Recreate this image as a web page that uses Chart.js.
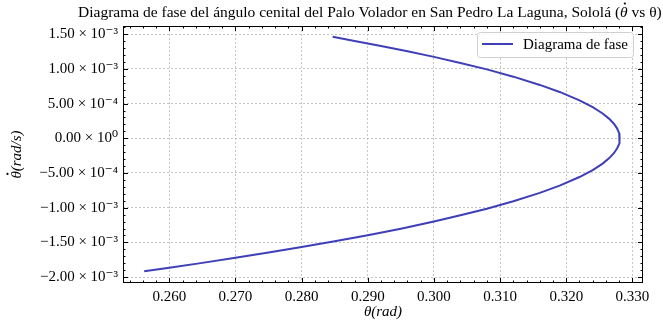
<!DOCTYPE html>
<html>
<head>
<meta charset="utf-8">
<script src="https://cdn.jsdelivr.net/npm/chart.js@4.4.1/dist/chart.umd.min.js"></script>
<style>
html, body { margin: 0; padding: 0; background: #fff; }
</style>
</head>
<body>
<canvas id="c" width="663" height="321"></canvas>
<script>
// angulo (rad) y velocidad angular (rad/s)
var theta = [0.2847, 0.2880, 0.2920, 0.2960, 0.3000, 0.3040, 0.3080, 0.3120, 0.3160, 0.3190,
  0.3220, 0.3240, 0.3255, 0.3265, 0.3272, 0.3277, 0.3280, 0.3281,
  0.3280, 0.3277, 0.3272, 0.3265, 0.3255, 0.3240, 0.3220, 0.3190, 0.3160, 0.3120,
  0.3080, 0.3040, 0.3000, 0.2950, 0.2900, 0.2850, 0.2800, 0.2750, 0.2700, 0.2650, 0.2600, 0.2562];
var thetaDot = [0.001462, 0.001402, 0.001330, 0.001254, 0.001173, 0.001086, 0.000993, 0.000888, 0.000769, 0.000668,
  0.000547, 0.000448, 0.000357, 0.000280, 0.000210, 0.000140, 0.000070, 0.0,
  -0.000072, -0.000143, -0.000215, -0.000286, -0.000365, -0.000458, -0.000558, -0.000682, -0.000787, -0.000907,
  -0.001014, -0.001110, -0.001199, -0.001302, -0.001396, -0.001484, -0.001567, -0.001646, -0.001722, -0.001795, -0.001866, -0.001916];

var xTicks = [0.26, 0.27, 0.28, 0.29, 0.30, 0.31, 0.32, 0.33];
var xTickLabels = ['0.260', '0.270', '0.280', '0.290', '0.300', '0.310', '0.320', '0.330'];
var yTicks = [-0.002, -0.0015, -0.001, -0.0005, 0, 0.0005, 0.001, 0.0015];
var yTickLabels = ['\u22122.00 \u00d7 10\u207b\u00b3', '\u22121.50 \u00d7 10\u207b\u00b3', '\u22121.00 \u00d7 10\u207b\u00b3',
  '\u22125.00 \u00d7 10\u207b\u2074', '0.00 \u00d7 10\u2070', '5.00 \u00d7 10\u207b\u2074',
  '1.00 \u00d7 10\u207b\u00b3', '1.50 \u00d7 10\u207b\u00b3'];

var tituloA = 'Diagrama de fase del \u00e1ngulo cenital del Palo Volador en San Pedro La Laguna, Solol\u00e1 (';
var tituloB = '\u03b8';
var tituloC = ' vs \u03b8)';
var serie = 'Diagrama de fase';
var azul = '#3f3fb8';
var serif = "'Liberation Serif', 'DejaVu Serif', serif";

var pts = [];
for (var i = 0; i < theta.length; i++) pts.push({x: theta[i], y: thetaDot[i]});

function punto(ctx, x, y) {
  ctx.beginPath();
  ctx.arc(x, y, 1.1, 0, Math.PI * 2);
  ctx.fill();
}

// marco y ticks hacia adentro, estilo matplotlib
var marco = {
  id: 'marco',
  afterDraw: function(chart) {
    var ctx = chart.ctx, a = chart.chartArea;
    var sx = chart.scales.x, sy = chart.scales.y;
    ctx.save();
    ctx.strokeStyle = '#000';
    ctx.lineWidth = 1;
    ctx.strokeRect(a.left + 0.5, a.top + 0.5, a.right - a.left - 1, a.bottom - a.top - 1);
    ctx.beginPath();
    var k, v, p, len;
    for (k = Math.ceil(sx.min / 0.002); k <= Math.floor(sx.max / 0.002); k++) {
      v = k * 0.002;
      p = Math.round(sx.getPixelForValue(v)) + 0.5;
      len = (k % 5 === 0) ? 5 : 2.5;
      ctx.moveTo(p, a.bottom); ctx.lineTo(p, a.bottom - len);
      ctx.moveTo(p, a.top); ctx.lineTo(p, a.top + len);
    }
    for (k = Math.ceil(sy.min / 0.0001); k <= Math.floor(sy.max / 0.0001); k++) {
      v = k * 0.0001;
      p = Math.round(sy.getPixelForValue(v)) + 0.5;
      len = (k % 5 === 0) ? 5 : 2.5;
      ctx.moveTo(a.left, p); ctx.lineTo(a.left + len, p);
      ctx.moveTo(a.right, p); ctx.lineTo(a.right - len, p);
    }
    ctx.stroke();

    // titulo (con punto sobre theta)
    var fs = '15.5px ' + serif, fi = 'italic 15.5px ' + serif;
    ctx.fillStyle = '#000';
    ctx.textBaseline = 'middle';
    ctx.textAlign = 'left';
    ctx.font = fs;
    var wA = ctx.measureText(tituloA).width;
    ctx.font = fi;
    var wB = ctx.measureText(tituloB).width;
    var tx = 78;
    ctx.font = fs;
    ctx.fillText(tituloA, tx, 13);
    ctx.font = fi;
    ctx.fillText(tituloB, tx + wA, 13);
    punto(ctx, tx + wA + wB / 2 + 1, 3.5);
    ctx.font = fs;
    ctx.fillText(tituloC, tx + wA + wB, 13);

    // titulo del eje y: theta punto (rad/s)
    ctx.save();
    ctx.translate(17, (a.top + a.bottom) / 2);
    ctx.rotate(-Math.PI / 2);
    ctx.font = 'italic 15px ' + serif;
    var t1 = '\u03b8', t2 = '(rad/s)';
    var w1 = ctx.measureText(t1).width, w2 = ctx.measureText(t2).width;
    var x0 = -(w1 + w2) / 2;
    ctx.fillText(t1, x0, 0);
    ctx.fillText(t2, x0 + w1, 0);
    punto(ctx, x0 + w1 / 2 + 1, -9.5);
    ctx.restore();

    // leyenda
    var lx = 477, ly = 32, lw = 156, lh = 25;
    ctx.beginPath();
    ctx.roundRect(lx + 0.5, ly + 0.5, lw, lh, 3);
    ctx.fillStyle = 'rgba(255,255,255,0.85)';
    ctx.fill();
    ctx.strokeStyle = '#d0d0d0';
    ctx.stroke();
    ctx.beginPath();
    ctx.strokeStyle = azul;
    ctx.lineWidth = 2;
    ctx.moveTo(482, 44); ctx.lineTo(513, 44);
    ctx.stroke();
    ctx.fillStyle = '#000';
    ctx.font = '15px ' + serif;
    ctx.textAlign = 'left';
    ctx.fillText(serie, 523, 45);
    ctx.restore();
  }
};

new Chart(document.getElementById('c'), {
  type: 'scatter',
  data: {
    datasets: [{
      label: serie,
      data: pts,
      showLine: true,
      borderColor: azul,
      borderWidth: 2,
      pointRadius: 0,
      tension: 0
    }]
  },
  options: {
    responsive: false,
    animation: false,
    layout: { padding: { top: 26, right: 20, left: 0, bottom: 0 } },
    plugins: { legend: { display: false }, tooltip: { enabled: false }, title: { display: false } },
    scales: {
      x: {
        min: 0.2530, max: 0.3316,
        afterBuildTicks: function(s) { s.ticks = xTicks.map(function(v) { return {value: v}; }); },
        afterFit: function(s) { s.height = 38; },
        grid: { color: '#b8b8b8', lineWidth: 0.8, drawTicks: false },
        border: { display: false, dash: [2, 2] },
        ticks: {
          padding: 5, color: '#000', font: { family: serif, size: 15 },
          maxRotation: 0, autoSkip: false,
          callback: function(v, i) { return xTickLabels[i]; }
        },
        title: { display: true, text: '\u03b8(rad)', color: '#000', padding: 0,
          font: { family: serif, size: 15, style: 'italic' } }
      },
      y: {
        min: -0.002085, max: 0.001618,
        afterBuildTicks: function(s) { s.ticks = yTicks.map(function(v) { return {value: v}; }); },
        afterFit: function(s) { s.width = 123; },
        grid: { color: '#b8b8b8', lineWidth: 0.8, drawTicks: false },
        border: { display: false, dash: [2, 2] },
        ticks: {
          padding: 5, color: '#000', font: { family: serif, size: 15 },
          autoSkip: false,
          callback: function(v, i) { return yTickLabels[i]; }
        },
        title: { display: false }
      }
    }
  },
  plugins: [marco]
});
</script>
</body>
</html>
